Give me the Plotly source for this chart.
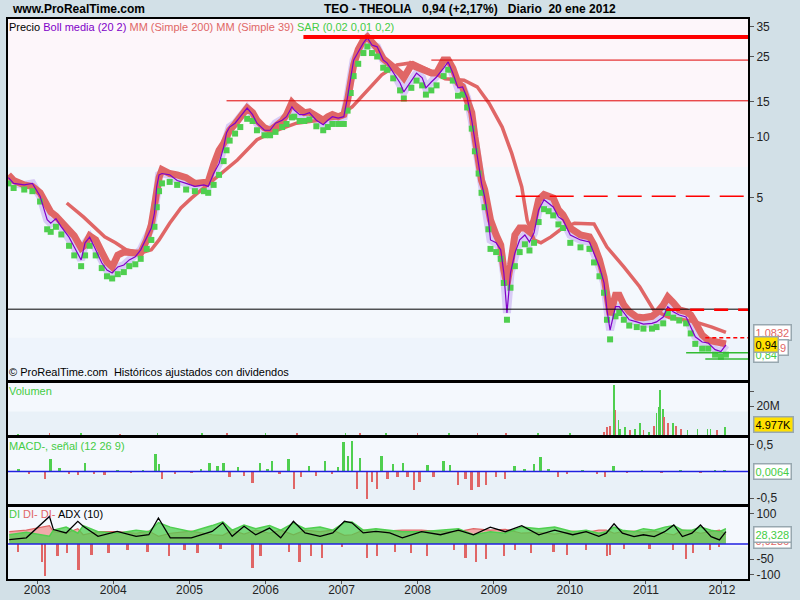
import numpy as np
import plotly.graph_objects as go
from plotly.subplots import make_subplots

# ---------------- data ----------------
dates = ["2002-08-16","2002-09-10","2002-10-31","2002-12-09","2003-01-15","2003-02-18","2003-03-07",
         "2003-04-01","2003-04-27","2003-06-03","2003-06-28","2003-07-31","2003-08-19","2003-09-10",
         "2003-10-09","2003-11-07","2003-12-02","2003-12-27","2004-01-23","2004-02-21","2004-03-18",
         "2004-04-16","2004-05-12","2004-06-10","2004-07-02","2004-07-17","2004-07-28","2004-08-08",
         "2004-08-22","2004-09-28","2004-11-03","2004-12-16","2005-01-27","2005-03-11","2005-04-01",
         "2005-04-27","2005-05-23","2005-06-14","2005-06-28","2005-07-13","2005-08-08","2005-09-02",
         "2005-10-05","2005-10-31","2005-11-21","2005-12-27","2006-01-23","2006-02-18","2006-03-22",
         "2006-04-12","2006-05-08","2006-05-19","2006-06-14","2006-07-06","2006-07-31","2006-09-02",
         "2006-10-05","2006-10-27","2006-11-18","2006-12-16","2007-01-12","2007-01-30","2007-02-14",
         "2007-02-28","2007-03-22","2007-04-16","2007-05-05","2007-05-27","2007-06-21","2007-07-20",
         "2007-08-08","2007-09-06","2007-10-09","2007-10-27","2007-12-02","2007-12-27","2008-01-23",
         "2008-02-10","2008-03-07","2008-04-01","2008-05-05","2008-05-27","2008-06-18","2008-07-13",
         "2008-08-04","2008-08-26","2008-09-17","2008-10-02","2008-10-20","2008-11-03","2008-11-18",
         "2008-12-06","2008-12-16","2009-01-12","2009-02-03","2009-02-18","2009-03-05","2009-03-22",
         "2009-04-12","2009-05-05","2009-05-30","2009-06-21","2009-07-13","2009-08-04","2009-08-30",
         "2009-09-21","2009-10-13","2009-11-07","2009-11-29","2010-01-03","2010-02-21","2010-04-05",
         "2010-04-27","2010-05-23","2010-06-14","2010-06-28","2010-07-13","2010-08-08","2010-08-26",
         "2010-09-17","2010-10-13","2010-11-18","2010-12-20","2011-01-30","2011-02-21","2011-03-25",
         "2011-04-16","2011-05-12","2011-06-10","2011-07-13","2011-08-04","2011-08-26","2011-09-28",
         "2011-10-27","2011-11-29","2011-12-27","2012-01-20"]
close = [6.3,5.9,5.8,5.9,5.1,3.9,3.75,3.95,3.6,3.2,2.86,2.47,3.0,3.2,2.77,2.39,2.2,2.13,2.28,2.33,2.47,
         2.56,2.77,3.2,3.55,4.2,5.7,6.5,6.6,6.5,6.1,5.9,5.7,5.8,5.7,6.6,7.4,8.9,10.5,11.2,11.7,12.6,
         13.9,12.9,11.7,10.8,10.8,11.7,12.1,12.6,14.1,13.6,12.9,12.9,13.2,12.1,11.5,12.1,12.6,12.4,
         12.6,15.8,19.8,24.0,26.3,29.2,30.9,28.5,27.9,24.0,23.2,21.0,18.5,16.7,19.1,20.7,19.6,17.5,
         18.7,19.8,21.9,23.5,20.7,17.5,17.7,15.6,12.1,9.7,7.4,5.9,5.06,3.9,3.1,3.0,2.77,2.13,1.35,
         2.13,2.67,3.1,3.28,3.03,3.36,4.36,4.9,4.72,4.51,4.03,3.89,3.28,3.1,3.03,2.67,2.28,1.9,1.4,
         1.11,1.45,1.45,1.35,1.25,1.22,1.19,1.2,1.22,1.29,1.45,1.37,1.32,1.29,1.15,1.03,0.97,0.96,
         0.89,0.87,0.94]
mm39 = [6.5,6.1,5.8,5.7,5.3,4.46,4.26,4.07,3.8,3.47,3.25,2.83,2.93,3.25,3.1,2.7,2.41,2.28,2.61,2.7,2.67,
        2.67,2.67,3.1,3.68,4.6,5.5,6.3,6.9,6.6,6.5,6.3,5.9,5.9,6.0,7.3,8.6,9.3,10.0,10.8,11.6,12.6,
        13.9,13.2,12.1,11.1,10.8,11.3,12.0,12.9,14.8,14.4,13.6,13.2,13.3,12.6,12.1,12.6,12.9,12.6,
        12.9,15.2,18.7,22.7,27.0,30.1,31.2,29.4,27.5,24.4,23.7,22.2,20.7,19.6,22.7,22.2,21.4,21.0,
        20.7,20.7,24.0,24.0,21.9,18.5,17.7,15.2,13.2,10.0,7.3,6.1,5.5,4.6,3.89,3.28,2.93,2.2,1.86,
        2.33,3.28,3.55,3.55,3.4,3.89,4.9,5.2,5.1,5.0,4.36,4.12,3.55,3.28,3.21,2.93,2.47,2.03,1.65,
        1.32,1.65,1.65,1.48,1.37,1.29,1.28,1.3,1.35,1.48,1.62,1.52,1.4,1.37,1.32,1.21,1.05,0.99,
        0.97,0.96,0.95]
sar = [5.9,5.6,5.5,5.4,4.8,3.5,3.4,3.6,3.3,2.9,2.6,2.3,2.6,2.9,2.6,2.25,2.05,2.0,2.1,2.15,2.3,2.35,2.5,
       2.8,3.1,3.6,4.5,5.4,5.9,6.0,5.8,5.5,5.4,5.4,5.3,5.8,6.5,7.6,8.6,9.6,10.4,11.2,12.3,12.0,10.8,
       10.2,10.2,10.6,11.2,11.6,12.5,12.6,12.0,12.0,12.2,11.3,10.8,11.2,11.6,11.6,11.6,13.5,16.5,20.0,
       23.0,26.0,28.0,26.0,25.0,22.0,21.5,19.5,17.0,15.5,17.5,19.0,18.0,16.2,17.0,18.0,20.0,21.5,19.0,
       16.0,16.2,14.0,11.0,8.5,6.6,5.3,4.5,3.5,2.8,2.7,2.5,1.9,1.25,1.8,2.3,2.7,2.95,2.75,3.0,3.8,4.4,
       4.3,4.1,3.7,3.55,3.0,2.85,2.8,2.4,2.05,1.7,1.25,1.0,1.3,1.35,1.25,1.17,1.15,1.13,1.13,1.15,1.2,
       1.35,1.28,1.24,1.2,1.07,0.95,0.9,0.9,0.84,0.82,0.84]

mm200_dates = ["2003-05-23","2003-08-11","2003-11-21","2004-01-12","2004-03-03","2004-05-12","2004-07-02",
               "2004-08-08","2004-09-28","2004-11-21","2005-01-12","2005-02-28","2005-05-12","2005-08-19",
               "2005-11-21","2006-02-24","2006-05-30","2006-09-02","2006-12-02","2007-02-21","2007-04-23",
               "2007-07-13","2007-09-24","2007-12-09","2008-02-24","2008-05-12","2008-08-11","2008-10-13",
               "2008-12-09","2009-02-10","2009-03-28","2009-05-15","2009-06-10","2009-07-13","2009-08-15",
               "2009-10-02","2009-11-14","2010-01-23","2010-04-27","2010-06-28","2010-09-17","2010-12-02",
               "2011-02-07","2011-04-23","2011-06-28","2011-08-26","2011-11-14","2012-01-20"]
mm200 = [4.72,4.03,3.21,3.0,2.77,2.67,2.77,3.1,3.75,4.46,5.0,5.5,6.35,7.7,9.7,10.8,11.7,12.1,12.4,14.1,
         16.5,20.3,22.7,23.3,21.4,19.4,19.1,17.7,14.7,11.2,8.3,5.67,3.89,3.1,3.0,3.21,3.47,3.75,3.72,
         2.86,2.28,1.82,1.4,1.28,1.25,1.22,1.15,1.0832]

# support / resistance levels: value, start date
level_values = [31.2, 24.0, 15.1, 5.1, 1.41, 1.40, 1.02, 0.86, 0.80]
level_starts = ["2006-07-02","2008-03-07","2005-06-28","2009-04-16","2002-08-01","2011-04-08",
                "2011-10-13","2011-07-13","2011-10-13"]

vol_dates = ["2002-10-01","2003-03-01","2003-08-01","2004-02-01","2004-08-01","2005-03-01","2005-07-01",
             "2006-01-01","2006-06-01","2007-01-20","2007-04-01","2007-08-01","2008-01-01","2008-06-01",
             "2008-10-15","2009-03-01","2009-08-01","2010-01-01","2010-06-14","2010-06-28","2010-07-13",
             "2010-07-31","2010-08-08","2010-08-22","2010-08-30","2010-09-24","2010-10-16","2010-11-10",
             "2010-12-02","2010-12-20","2011-01-15","2011-02-07","2011-02-21","2011-03-03","2011-03-11",
             "2011-03-25","2011-03-29","2011-04-16","2011-05-12","2011-05-27","2011-06-18","2011-07-20",
             "2011-09-06","2011-10-24","2011-11-07","2011-12-09","2012-01-15"]
vol_m = [0.4,0.6,0.5,0.4,0.8,0.5,0.9,0.7,0.8,1.2,0.9,0.8,0.9,1.0,1.3,1.2,1.0,1.0,2.0,5.0,6.0,35.0,17.0,
         10.0,4.0,5.0,3.0,4.0,8.0,3.0,2.0,6.0,15.0,19.0,31.0,18.0,12.0,8.0,8.0,6.0,4.0,3.0,4.0,4.0,4.0,
         3.0,5.0]
vol_up = [1,0,1,0,1,1,0,1,0,1,0,1,0,1,0,0,1,1,0,0,0,1,0,1,1,1,0,1,1,0,1,0,1,1,1,1,0,0,1,0,0,1,1,1,1,0,1]

macd_dates = ["2002-10-05","2002-11-25","2003-02-10","2003-03-07","2003-04-20","2003-06-03","2003-07-17",
              "2003-08-19","2003-10-02","2003-11-21","2004-01-23","2004-03-29","2004-05-23","2004-07-24",
              "2004-08-08","2004-08-22","2004-10-24","2005-01-12","2005-02-28","2005-04-08","2005-05-16",
              "2005-06-14","2005-07-13","2005-08-22","2005-09-21","2005-10-31","2005-12-06","2006-01-12",
              "2006-02-03","2006-03-11","2006-04-23","2006-05-19","2006-06-21","2006-07-31","2006-09-02",
              "2006-10-16","2006-11-18","2006-12-16","2007-01-12","2007-02-03","2007-02-21","2007-03-18",
              "2007-04-01","2007-05-05","2007-05-27","2007-06-21","2007-07-13","2007-08-11","2007-09-06",
              "2007-09-28","2007-10-24","2007-11-14","2007-12-16","2008-01-12","2008-02-18","2008-03-18",
              "2008-05-05","2008-06-07","2008-07-13","2008-08-19","2008-09-17","2008-10-20","2008-11-25",
              "2009-01-12","2009-02-24","2009-04-12","2009-05-30","2009-07-13","2009-08-15","2009-09-21",
              "2009-11-07","2009-12-20","2010-03-03","2010-05-12","2010-06-21","2010-07-31","2010-10-02",
              "2010-12-13","2011-03-18","2011-06-18","2011-09-21","2011-11-29","2012-01-15"]
macd_hist = [0.05,-0.04,-0.15,0.23,0.06,-0.05,-0.06,0.17,-0.05,-0.06,0.03,-0.03,0.03,0.33,0.15,-0.15,
             -0.04,-0.03,0.05,0.17,0.1,0.17,-0.1,0.08,-0.08,-0.21,0.17,0.05,0.2,-0.05,0.23,-0.33,-0.1,
             0.1,-0.08,0.2,-0.05,0.08,0.55,0.3,0.58,-0.33,0.25,-0.52,-0.2,-0.33,0.3,-0.15,0.15,-0.1,0.17,
             -0.1,-0.35,-0.2,0.12,-0.1,0.2,0.12,-0.25,-0.15,-0.35,-0.3,-0.25,-0.1,-0.15,0.1,0.05,0.15,
             0.27,0.05,-0.1,-0.05,0.03,-0.05,-0.1,0.1,-0.03,0.02,-0.03,0.02,-0.03,0.02,0.01]

di_dates = ["2002-08-20","2002-11-10","2003-03-01","2003-03-20","2003-05-20","2003-07-15","2003-08-10",
            "2003-10-20","2004-01-20","2004-04-20","2004-06-20","2004-08-05","2004-10-01","2005-01-10",
            "2005-04-20","2005-06-10","2005-07-25","2005-09-20","2005-11-15","2006-01-20","2006-03-15",
            "2006-05-15","2006-07-10","2006-09-20","2006-11-20","2007-01-15","2007-02-20","2007-04-15",
            "2007-06-15","2007-08-20","2007-10-20","2008-01-20","2008-04-20","2008-07-15","2008-09-25",
            "2008-12-15","2009-02-25","2009-05-15","2009-08-05","2009-10-20","2010-01-15","2010-03-20",
            "2010-05-20","2010-06-25","2010-08-01","2010-09-10","2010-11-05","2010-12-20","2011-02-10",
            "2011-04-01","2011-05-15","2011-06-25","2011-08-10","2011-09-20","2011-11-10","2011-12-20",
            "2012-01-20"]
adx = [14,20,90,47,36,74,58,25,41,25,30,85,20,20,41,69,25,58,30,52,20,74,36,25,36,74,69,36,41,36,20,40,
       30,45,30,55,40,60,30,45,30,40,25,35,66,35,24,30,24,40,62,24,35,62,24,13,40]
di_plus = [30,38,25,45,55,35,60,40,35,45,40,70,55,40,60,72,45,62,50,60,45,68,50,55,45,70,72,45,50,45,40,
           40,45,50,30,40,35,55,50,55,40,45,35,40,55,45,40,50,45,55,60,45,45,55,45,40,50]
di_minus = [40,45,60,40,35,50,30,40,40,35,42,25,35,42,30,28,45,32,45,35,45,30,45,40,45,28,30,45,40,42,45,
            45,40,40,50,45,48,35,38,32,42,38,45,45,35,40,42,38,42,35,30,45,42,35,42,45,30]
dih_dates = ["2002-10-01","2003-01-25","2003-02-10","2003-04-10","2003-05-25","2003-07-20","2003-09-20",
             "2003-12-10","2004-03-10","2004-06-15","2004-09-25","2004-12-10","2005-02-10","2005-06-01",
             "2005-10-31","2005-12-10","2006-04-25","2006-06-15","2006-08-10","2006-10-01","2007-01-05",
             "2007-05-05","2007-06-21","2007-09-15","2007-12-01","2008-02-15","2008-06-25","2008-08-20",
             "2008-10-10","2008-11-25","2009-02-20","2009-04-15","2009-07-01","2009-10-15","2009-12-20",
             "2010-03-20","2010-06-28","2010-07-13","2010-09-20","2011-01-20","2011-05-12","2011-07-13",
             "2011-08-15","2011-11-05","2011-12-20"]
dih = [-25,-60,-106,-40,-30,-85,-35,-30,-20,-25,-40,-20,-30,-15,-80,-40,-25,-60,-40,-45,-10,-45,-40,-25,
       -30,-40,-20,-45,-60,-50,-40,-20,-30,-25,-35,-20,-40,-35,-15,-15,-20,-50,-30,-20,-10]

year_ticks = ["2003-01-01","2004-01-01","2005-01-01","2006-01-01","2007-01-01","2008-01-01",
              "2009-01-01","2010-01-01","2011-01-01","2012-01-01"]
year_labels = ["2003","2004","2005","2006","2007","2008","2009","2010","2011","2012"]

# ---------------- figure ----------------
RED = "#e06666"
GREEN = "#4fcf4f"
PURPLE = "#8000c8"
FONT = "Liberation Sans, Arial, sans-serif"
X_RANGE = ["2002-08-14", "2012-05-05"]

fig = make_subplots(rows=4, cols=1, shared_xaxes=True)

# main panel
fig.add_trace(go.Scatter(x=dates, y=close, mode="lines", line=dict(color="#d8cbf6", width=8),
                         hoverinfo="skip"), row=1, col=1)
fig.add_trace(go.Scatter(x=mm200_dates, y=mm200, mode="lines", line=dict(color=RED, width=3.5)),
              row=1, col=1)
fig.add_trace(go.Scatter(x=dates, y=mm39, mode="lines", line=dict(color=RED, width=7)), row=1, col=1)
fig.add_trace(go.Scatter(x=dates, y=sar, mode="markers",
                         marker=dict(color=GREEN, size=6, symbol="square")), row=1, col=1)
fig.add_trace(go.Scatter(x=dates, y=close, mode="lines", line=dict(color=PURPLE, width=1.2)),
              row=1, col=1)

# volume
fig.add_trace(go.Bar(x=vol_dates, y=vol_m, width=4 * 86400000,
                     marker=dict(color=[GREEN if u else RED for u in vol_up], line=dict(width=0))),
              row=2, col=1)
# MACD
fig.add_trace(go.Bar(x=macd_dates, y=macd_hist, width=9 * 86400000,
                     marker=dict(color=[GREEN if v >= 0 else RED for v in macd_hist], line=dict(width=0))),
              row=3, col=1)
# DI / ADX
fig.add_trace(go.Bar(x=dih_dates, y=dih, width=9 * 86400000,
                     marker=dict(color=RED, line=dict(width=0))), row=4, col=1)
fig.add_trace(go.Scatter(x=di_dates, y=di_minus, mode="lines", line=dict(color=RED, width=1.2),
                         fill="tozeroy", fillcolor="#f0aaaa"), row=4, col=1)
fig.add_trace(go.Scatter(x=di_dates, y=di_plus, mode="lines", line=dict(color=GREEN, width=1.5),
                         fill="tozeroy", fillcolor="rgba(79,207,79,0.75)"), row=4, col=1)
fig.add_trace(go.Scatter(x=di_dates, y=adx, mode="lines", line=dict(color="black", width=1.3)),
              row=4, col=1)

# levels
styles = [dict(color="#ff0000", width=4), dict(color="#e00000", width=1), dict(color="#e00000", width=1),
          dict(color="#ff0000", width=1.5, dash="24px,10px"), dict(color="black", width=1),
          dict(color="#ff0000", width=2.5, dash="14px,10px"), dict(color="#ff0000", width=1.5, dash="4px,3px"),
          dict(color="#33bb33", width=1.5), dict(color="#33bb33", width=1.5)]
for v, s, st in zip(level_values, level_starts, styles):
    fig.add_shape(type="line", xref="x", yref="y", x0=s, x1=X_RANGE[1], y0=v, y1=v, line=st)

# background bands in main panel
fig.add_shape(type="rect", xref="x domain", yref="y domain", x0=0, x1=1, y0=0.59, y1=1,
              fillcolor="#fdf6fa", line=dict(width=0), layer="below")
fig.add_shape(type="rect", xref="x domain", yref="y domain", x0=0, x1=1, y0=0, y1=0.117,
              fillcolor="#eef4fc", line=dict(width=0), layer="below")
for yr in ["y2", "y3", "y4"]:
    fig.add_shape(type="rect", xref="x domain", yref=yr + " domain", x0=0, x1=1, y0=0, y1=0.45,
                  fillcolor="#e9f1f8", line=dict(width=0), layer="below")
# zero lines
fig.add_shape(type="line", xref="x domain", yref="y3", x0=0, x1=1, y0=0, y1=0,
              line=dict(color="#2020e0", width=1.5))
fig.add_shape(type="line", xref="x domain", yref="y4", x0=0, x1=1, y0=0, y1=0,
              line=dict(color="#2020e0", width=1.5))

axis_common = dict(showline=True, linecolor="black", linewidth=2, mirror=True, showgrid=False,
                   zeroline=False, ticks="outside", ticklen=4, tickcolor="#555", automargin=False,
                   tickfont=dict(family=FONT, size=12, color="#222"))
xa = {k: v for k, v in axis_common.items() if k != "ticks"}
xb = {k: v for k, v in axis_common.items() if k != "ticklen"}
fig.update_layout(
    width=800, height=600, autosize=False, margin=dict(l=8, r=52, t=19, b=21),
    paper_bgcolor="#d2e0e7", plot_bgcolor="#f4f8fd", showlegend=False, bargap=0,
    font=dict(family=FONT),
    xaxis=dict(domain=[0, 1], type="date", range=X_RANGE, showticklabels=False, ticks="", **xa),
    xaxis2=dict(domain=[0, 1], type="date", range=X_RANGE, showticklabels=False, matches="x", ticks="", **xa),
    xaxis3=dict(domain=[0, 1], type="date", range=X_RANGE, showticklabels=False, matches="x", ticks="", **xa),
    xaxis4=dict(domain=[0, 1], type="date", range=X_RANGE, matches="x", tickvals=year_ticks,
                ticktext=year_labels, ticklen=3, ticklabelstandoff=-4, **xb),
    yaxis=dict(domain=[0.3554, 1], type="log", range=[np.log10(0.63), np.log10(38.3)], side="right",
               tickvals=[5, 10, 15, 25, 35], ticktext=["5", "10", "15", "25", "35"], **axis_common),
    yaxis2=dict(domain=[0.2571, 0.35], range=[-0.3, 36.1], side="right", tickvals=[20, 30],
                ticktext=["20M", ""], **axis_common),
    yaxis3=dict(domain=[0.1339, 0.2518], range=[-0.613, 0.632], side="right", tickvals=[0.5, -0.5],
                ticktext=["0,5", "-0,5"], **axis_common),
    yaxis4=dict(domain=[0, 0.1286], range=[-115, 121], side="right", tickvals=[100, -50, -100],
                ticktext=["100", "-50", "-100"], **axis_common),
)

def px_x(p):
    return (p - 8) / 740.0

def px_y(p):
    return (579 - p) / 560.0

ann = []
ann.append(dict(x=px_x(10), y=px_y(9), xref="paper", yref="paper", xanchor="left", yanchor="middle",
                text="<b>www.ProRealTime.com</b>", showarrow=False, font=dict(size=12, color="black")))
ann.append(dict(x=px_x(322), y=px_y(9), xref="paper", yref="paper", xanchor="left", yanchor="middle",
                text="<b>TEO - THEOLIA&nbsp;&nbsp; 0,94 (+2,17%)&nbsp;&nbsp; Diario&nbsp; 20 ene 2012</b>",
                showarrow=False, font=dict(size=12, color="black")))
ann.append(dict(x=px_x(7), y=px_y(27), xref="paper", yref="paper", xanchor="left", yanchor="middle",
                text="Precio <span style='color:#8000c8'>Boll media (20 2)</span> "
                     "<span style='color:#e06666'>MM (Simple 200) MM (Simple 39)</span> "
                     "<span style='color:#44cc44'>SAR (0,02 0,01 0,2)</span>",
                showarrow=False, font=dict(size=11, color="black")))
ann.append(dict(x=px_x(7), y=px_y(372), xref="paper", yref="paper", xanchor="left", yanchor="middle",
                text="© ProRealTime.com&nbsp; Históricos ajustados con dividendos",
                showarrow=False, font=dict(size=11, color="black")))
ann.append(dict(x=px_x(7), y=px_y(391), xref="paper", yref="paper", xanchor="left", yanchor="middle",
                text="Volumen", showarrow=False, font=dict(size=11, color="#44cc44")))
ann.append(dict(x=px_x(7), y=px_y(446), xref="paper", yref="paper", xanchor="left", yanchor="middle",
                text="MACD-, señal (12 26 9)", showarrow=False, font=dict(size=11, color="#44cc44")))
ann.append(dict(x=px_x(7), y=px_y(514), xref="paper", yref="paper", xanchor="left", yanchor="middle",
                text="<span style='color:#44cc44'>DI</span> <span style='color:#e06666'>DI-</span> "
                     "<span style='color:#e06666'>DI-</span> ADX (10)",
                showarrow=False, font=dict(size=11, color="black")))

def box(yref, y, text, fc, bg):
    return dict(x=1, y=y, xref="paper", yref=yref, xanchor="left", yanchor="middle", xshift=5,
                text=text, showarrow=False, font=dict(size=11, color=fc), bgcolor=bg,
                bordercolor="#98a8b0", borderwidth=1.5, borderpad=1)

ann.append(box("y", np.log10(1.0832), "1,0832", "#e06666", "white"))
ann.append(box("y", np.log10(0.915), "&nbsp;&nbsp;&nbsp;&nbsp;&nbsp;&nbsp;49", "#e06666", "white"))
ann.append(box("y", np.log10(0.84), "0,84", "#44cc44", "white"))
ann.append(box("y", np.log10(0.94), "0,94", "black", "#ffe000"))
ann.append(box("y2", 7.0, "4.977K", "black", "#ffe000"))
ann.append(box("y3", 0.0064, "0,0064", "#44cc44", "white"))
ann.append(box("y4", 12, "0,9236", "#e06666", "white"))
ann.append(box("y4", 32, "28,328", "#44cc44", "white"))
fig.update_layout(annotations=ann)

fig.write_html("out.html",
               config={"displayModeBar": False, "responsive": False},
               post_script="document.body.style.margin='0';document.body.style.overflow='hidden';")
